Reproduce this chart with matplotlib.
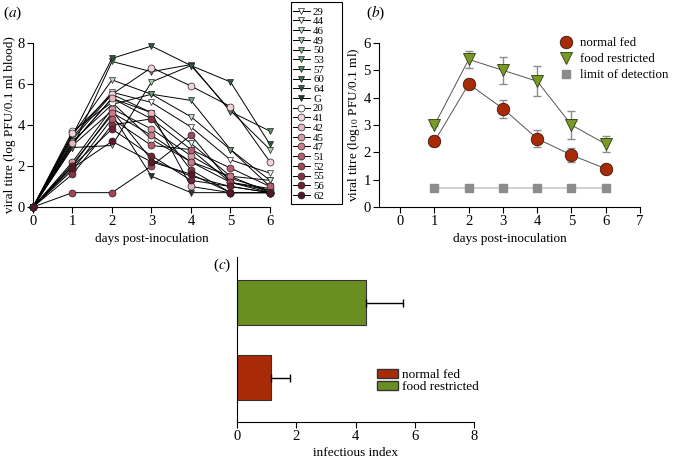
import matplotlib
matplotlib.use("Agg")
import matplotlib.pyplot as plt
from matplotlib.patches import Patch, Rectangle
import numpy as np

plt.rcParams['font.family'] = ['Liberation Serif', 'DejaVu Serif']
plt.rcParams['mathtext.fontset'] = 'stix'

# ---------------- data ----------------
days = [0, 1, 2, 3, 4, 5, 6]

# panel (a): food restricted individuals (triangles)
tri_ids = ['29', '44', '46', '49', '50', '53', '57', '60', '64', 'G']
tri_vals = [
    [0, 3.4, 5.6, 5.1, 3.9, 2.3, 1.65],
    [0, 3.3, 5.5, 4.6, 3.1, 1.5, 1.3],
    [0, 3.5, 6.2, 5.5, 4.4, 2.8, 1.3],
    [0, 2.9, 3.0, 6.1, 6.9, 4.7, 2.8],
    [0, 3.1, 5.3, 4.3, 2.8, 1.2, 0.8],
    [0, 3.2, 5.0, 5.5, 5.2, 2.8, 1.0],
    [0, 2.9, 7.1, 6.6, 6.95, 4.65, 3.7],
    [0, 3.0, 4.7, 2.3, 1.5, 1.0, 0.7],
    [0, 3.5, 7.25, 7.85, 6.9, 6.1, 3.05],
    [0, 2.1, 4.5, 1.5, 0.7, 0.7, 0.7],
]
tri_colors = ['#ffffff', '#dcefdc', '#bfe0c4', '#a2cfac', '#86bb94',
              '#6aa47c', '#538b64', '#3f724f', '#2d5a3c', '#1c3b27']

# panel (a): normal fed individuals (circles)
cir_ids = ['20', '41', '42', '45', '47', '51', '52', '55', '56', '62']
cir_vals = [
    [0, 3.7, 5.1, 3.3, 2.2, 1.2, 0.9],
    [0, 3.6, 5.5, 6.8, 5.9, 4.9, 2.2],
    [0, 3.1, 5.3, 4.6, 1.0, 0.7, 0.7],
    [0, 2.2, 4.8, 3.8, 2.5, 1.4, 0.8],
    [0, 2.0, 4.6, 3.5, 2.2, 1.5, 0.7],
    [0, 1.8, 4.3, 3.0, 2.8, 1.9, 1.0],
    [0, 0.7, 0.7, 2.0, 3.5, 1.2, 0.7],
    [0, 1.6, 4.0, 4.3, 1.8, 0.7, 0.7],
    [0, 2.0, 3.8, 2.5, 1.3, 1.0, 0.7],
    [0, 1.9, 3.2, 2.2, 1.6, 0.7, 0.7],
]
cir_colors = ['#ffffff', '#f3d3d7', '#e8b6bd', '#da98a4', '#cb7a89',
              '#b95d6e', '#a44556', '#8a3142', '#712232', '#561726']

# panel (b): means and errors
b_days = [1, 2, 3, 4, 5, 6]
nf_mean = [2.4, 4.5, 3.6, 2.5, 1.9, 1.4]
nf_err = [0.18, 0.18, 0.33, 0.3, 0.27, 0.12]
fr_mean = [3.0, 5.4, 5.0, 4.6, 3.0, 2.3]
fr_err = [0.05, 0.3, 0.5, 0.55, 0.5, 0.3]
lod = [0.7, 0.7, 0.7, 0.7, 0.7, 0.7]

# panel (c)
c_labels = ['normal fed', 'food restricted']
c_vals = [1.15, 4.35]
c_errs = [0.65, 1.27]

red = '#a82a06'
green = '#6b8e23'

W, H = 674, 461
fig = plt.figure(figsize=(W / 100, H / 100), dpi=100)

def axrect(l, t, r, b):
    return [l / W, 1 - b / H, (r - l) / W, (b - t) / H]

def style(ax):
    for s in ['top', 'right']:
        ax.spines[s].set_visible(False)
    for s in ['left', 'bottom']:
        ax.spines[s].set_linewidth(0.8)
    ax.tick_params(direction='out', length=4, width=0.8, labelsize=10.5, pad=2)

# ---------------- panel (a) ----------------
axa = fig.add_axes(axrect(33, 43, 270, 207))
handles = []
for vals, c, lab in zip(tri_vals, tri_colors, tri_ids):
    h, = axa.plot(days, vals, '-', color='black', lw=0.7, marker='v', ms=5,
                  mfc=c, mec='#222222', mew=0.5, label=lab, clip_on=False, zorder=3)
    handles.append(h)
for vals, c, lab in zip(cir_vals, cir_colors, cir_ids):
    h, = axa.plot(days, vals, '-', color='black', lw=0.7, marker='o', ms=5,
                  mfc=c, mec='#222222', mew=0.5, label=lab, clip_on=False, zorder=3)
    handles.append(h)
axa.set_xlim(0, 6)
axa.set_ylim(0, 8)
axa.set_xticks(days)
axa.set_yticks([0, 2, 4, 6, 8])
style(axa)
axa.set_xlabel('days post-inoculation', fontsize=9.5, labelpad=3)
axa.set_ylabel('viral titre (log PFU/0.1 ml blood)', fontsize=9.5, labelpad=1)
fig.text(3 / W, 1 - 13 / H, r'($\it{a}$)', fontsize=11, va='center')

fig.add_artist(Rectangle((291 / W, 1 - 204 / H), 51 / W, 202 / H,
                         transform=fig.transFigure, fill=False,
                         edgecolor='black', linewidth=0.8))
leg = fig.legend(handles=handles, loc='upper left',
                 bbox_to_anchor=(293 / W, 1 - 7 / H), fontsize=7.8,
                 labelspacing=0.01, handlelength=1.55, handletextpad=0.3,
                 borderpad=0, borderaxespad=0, frameon=False)

# ---------------- panel (b) ----------------
axb = fig.add_axes(axrect(379, 43, 640, 207))
axb.plot(b_days, lod, '-', color='#c8c8c8', lw=1.2, marker='s', ms=6,
         mfc='#8c8c8c', mec='#8c8c8c', label='limit of detection', zorder=2)
axb.errorbar(b_days, nf_mean, yerr=nf_err, fmt='-', color='#555555', lw=0.7,
             ecolor='#8c8c8c', elinewidth=1, capsize=3, zorder=3)
axb.errorbar(b_days, fr_mean, yerr=fr_err, fmt='-', color='#555555', lw=0.7,
             ecolor='#8c8c8c', elinewidth=1, capsize=3, zorder=3)
hn, = axb.plot(b_days, nf_mean, 'o', ms=9, mfc=red, mec='#3a1a0a', mew=0.6,
               label='normal fed', zorder=4, ls='none')
hf, = axb.plot(b_days, fr_mean, 'v', ms=9, mfc='#7a9a26', mec='#2a3a0a', mew=0.6,
               label='food restricted', zorder=4, ls='none')
hl, = axb.plot([], [], 's', ms=6, mfc='#8c8c8c', mec='#8c8c8c', ls='none')
axb.set_xlim(-0.62, 7)
axb.set_ylim(0, 6)
axb.set_xticks([0, 1, 2, 3, 4, 5, 6, 7])
axb.set_yticks([0, 1, 2, 3, 4, 5, 6])
style(axb)
axb.set_xlabel('days post-inoculation', fontsize=9.5, labelpad=3)
axb.set_ylabel(r'viral titre (log$_{10}$ PFU/0.1 ml)', fontsize=9.5, labelpad=1)
axb.legend([hn, hf, hl], ['normal fed', 'food restricted', 'limit of detection'],
           loc='upper left', bbox_to_anchor=(0.69, 1.035), fontsize=9.3,
           frameon=False, handletextpad=0.6, labelspacing=0.3, handlelength=1.0,
           borderpad=0, borderaxespad=0)
fig.text(366 / W, 1 - 13 / H, r'($\it{b}$)', fontsize=11, va='center')

# ---------------- panel (c) ----------------
axc = fig.add_axes(axrect(237, 257, 474, 422))
ypos = [0, 1]
axc.barh(ypos, c_vals, height=0.6, color=[red, green],
         edgecolor='#333333', linewidth=0.8, zorder=2)
axc.errorbar(c_vals, ypos, xerr=[[0, 0], c_errs], fmt='none', ecolor='black',
             elinewidth=1, capsize=3, capthick=1, zorder=3)
axc.set_xlim(0, 8)
axc.set_ylim(-0.593, 1.607)
axc.set_xticks([0, 2, 4, 6, 8])
axc.set_yticks([])
style(axc)
axc.set_xlabel('infectious index', fontsize=9.5, labelpad=3)
axc.legend([Patch(facecolor=red, edgecolor='#333333'),
            Patch(facecolor=green, edgecolor='#333333')], c_labels,
           loc='upper left', bbox_to_anchor=(377 / W, 1 - 369 / H),
           bbox_transform=fig.transFigure, fontsize=9.5, frameon=False,
           handlelength=1.6, handleheight=0.6, handletextpad=0.3,
           labelspacing=0.0, borderpad=0, borderaxespad=0)
fig.text(213 / W, 1 - 265 / H, r'($\it{c}$)', fontsize=11, va='center')

fig.savefig('out.png', dpi=100)
